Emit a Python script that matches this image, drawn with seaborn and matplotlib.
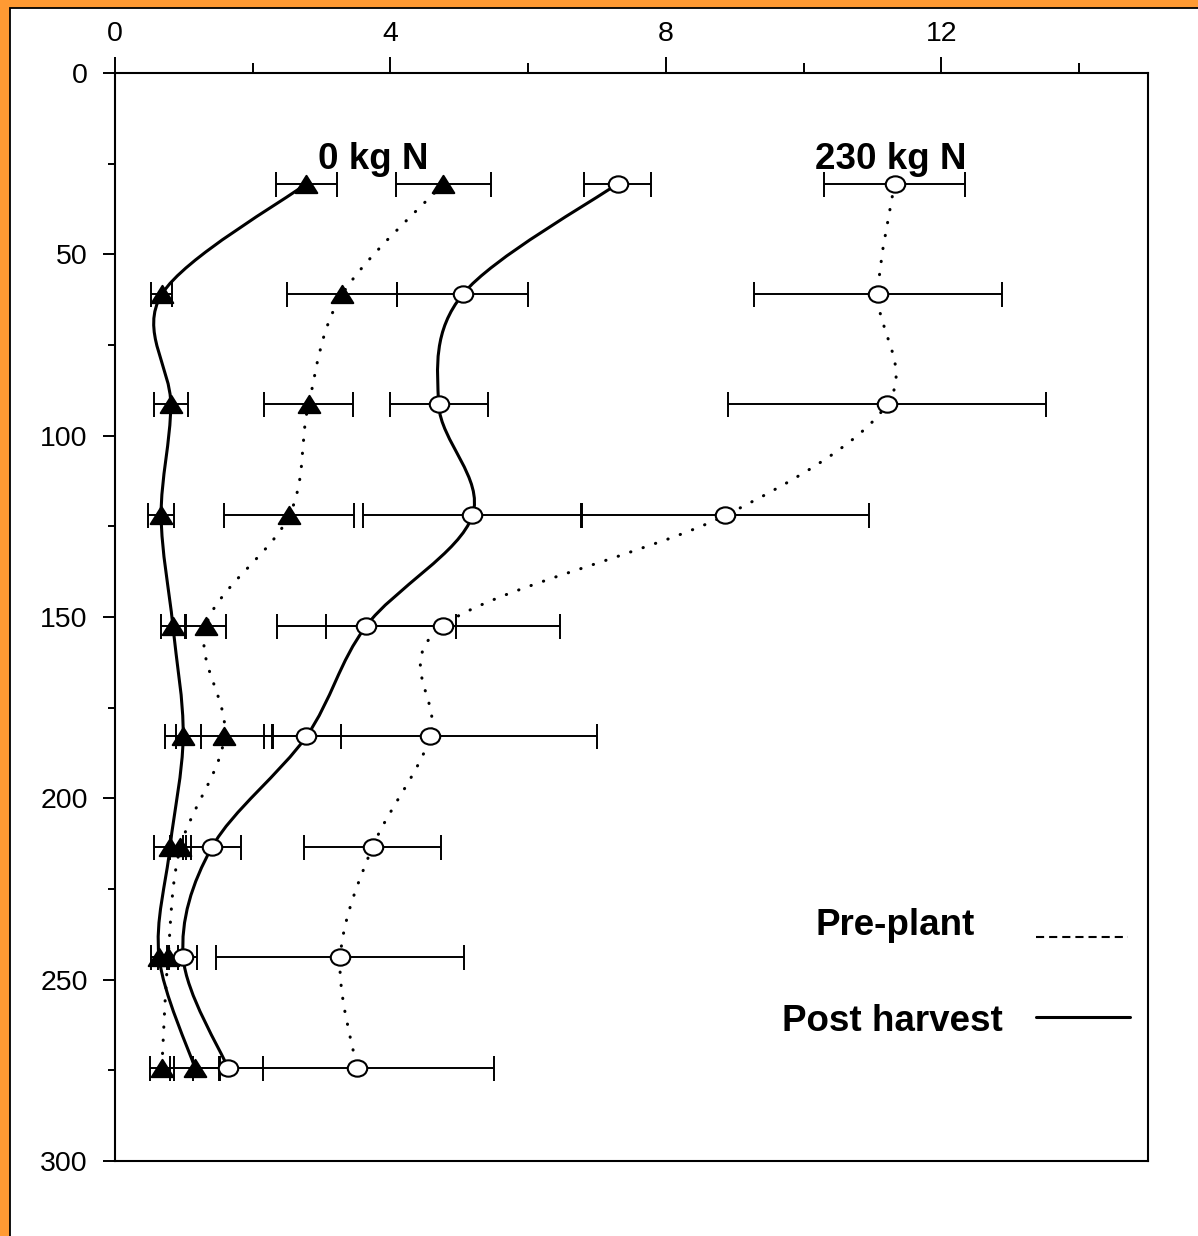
import numpy as np
import pandas as pd
import seaborn as sns
import matplotlib
matplotlib.use("Agg")
import matplotlib.pyplot as plt
from matplotlib.path import Path
from matplotlib.patches import PathPatch, Rectangle
from matplotlib.transforms import Affine2D

# depth of each sampling layer (cm)
depth = [30.5, 61.0, 91.4, 122.0, 152.4, 182.9, 213.4, 243.8, 274.3]

# 0 kg N
n0_pre = [4.77, 3.30, 2.81, 2.53, 1.32, 1.59, 0.95, 0.77, 0.68]
n0_pre_err = [0.69, 0.80, 0.65, 0.94, 0.29, 0.71, 0.15, 0.15, 0.17]
n0_post = [2.78, 0.68, 0.81, 0.67, 0.84, 0.99, 0.80, 0.64, 1.16]
n0_post_err = [0.44, 0.15, 0.25, 0.19, 0.17, 0.26, 0.23, 0.12, 0.36]

# 230 kg N
n230_pre = [11.32, 11.08, 11.21, 8.86, 4.76, 4.58, 3.74, 3.27, 3.51]
n230_pre_err = [1.02, 1.80, 2.31, 2.09, 1.70, 2.42, 1.00, 1.80, 2.00]
n230_post = [7.30, 5.05, 4.70, 5.19, 3.65, 2.78, 1.41, 0.99, 1.64]
n230_post_err = [0.49, 0.95, 0.71, 1.59, 1.30, 0.50, 0.42, 0.20, 0.51]

x_major = [0, 4, 8, 12]
x_minor = [2, 6, 10, 14]
y_major = [0, 50, 100, 150, 200, 250, 300]
y_minor = [25, 75, 125, 175, 225, 275]

sns.set_style("ticks")
plt.rcParams["font.family"] = ["Liberation Sans", "DejaVu Sans"]
plt.rcParams["text.color"] = "black"
plt.rcParams["axes.edgecolor"] = "black"
plt.rcParams["xtick.color"] = "black"
plt.rcParams["ytick.color"] = "black"

fig = plt.figure(figsize=(11.98, 12.36), dpi=100)
fig.patch.set_facecolor("#FF9A33")
fig.patches.append(Rectangle((9.5 / 1198, -0.1), 1.2, 1.1 - 8.5 / 1236,
                             transform=fig.transFigure, facecolor="white",
                             edgecolor="black", lw=1.3, zorder=-5))
ax = fig.add_axes([115 / 1198, 1 - 1161 / 1236, 1033 / 1198, 1088 / 1236])
ax.set_facecolor("white")


def smooth_path(xs, ys):
    # catmull-rom curve through the points, as cubic bezier segments
    pts = np.column_stack([xs, ys])
    ext = np.vstack([pts[0], pts, pts[-1]])
    verts = [pts[0]]
    codes = [Path.MOVETO]
    for i in range(len(pts) - 1):
        p0, p1, p2, p3 = ext[i], ext[i + 1], ext[i + 2], ext[i + 3]
        verts += [p1 + (p2 - p0) / 6, p2 - (p3 - p1) / 6, p2]
        codes += [Path.CURVE4] * 3
    return Path(verts, codes)


tri = Path([(0, 0.8), (-1, -0.8), (1, -0.8), (0, 0.8)],
           [Path.MOVETO, Path.LINETO, Path.LINETO, Path.CLOSEPOLY])
ell = Path.unit_circle().transformed(Affine2D().scale(1.0, 0.84))

series = [
    (n0_pre, n0_pre_err, "pre", tri, "black", 15.5),
    (n0_post, n0_post_err, "post", tri, "black", 15.5),
    (n230_pre, n230_pre_err, "pre", ell, "white", 14.0),
    (n230_post, n230_post_err, "post", ell, "white", 14.0),
]

for vals, err, kind, mk, fc, ms in series:
    df = pd.DataFrame({"no3": vals, "depth": depth, "err": err})
    ax.errorbar(df["no3"], df["depth"], xerr=df["err"], fmt="none",
                ecolor="black", elinewidth=1.4, capsize=9, capthick=1.4,
                zorder=2)
    if kind == "post":
        patch = PathPatch(smooth_path(df["no3"], df["depth"]), fill=False,
                          lw=2.2, edgecolor="black", zorder=3)
    else:
        patch = PathPatch(smooth_path(df["no3"], df["depth"]), fill=False,
                          lw=2.2, edgecolor="black", zorder=3,
                          linestyle=(0, (0.1, 4.2)), capstyle="round")
    ax.add_patch(patch)
    sns.scatterplot(data=df, x="no3", y="depth", marker=mk, s=ms ** 2,
                    color=fc, edgecolor="black", linewidth=1.5, zorder=4,
                    ax=ax, legend=False)

ax.set_xlim(0, 15)
ax.set_ylim(300, 0)
ax.xaxis.tick_top()
ax.set_xticks(x_major)
ax.set_xticks(x_minor, minor=True)
ax.set_yticks(y_major)
ax.set_yticks(y_minor, minor=True)
ax.tick_params(axis="x", which="major", length=11.5, width=1.4, pad=7, labelsize=20.5)
ax.tick_params(axis="x", which="minor", length=7, width=1.4)
ax.tick_params(axis="y", which="major", length=8.6, width=1.4, pad=11, labelsize=20.5)
ax.tick_params(axis="y", which="minor", length=5, width=1.4)
ax.set_xlabel("")
ax.set_ylabel("")
for sp in ax.spines.values():
    sp.set_visible(True)
    sp.set_linewidth(1.5)
    sp.set_color("black")

ax.text(3.75, 26.5, "0 kg N", ha="center", va="baseline", fontsize=26.5,
        fontweight="bold")
ax.text(11.27, 26.5, "230 kg N", ha="center", va="baseline", fontsize=26.5,
        fontweight="bold")

# legend drawn as labels with line samples
ax.text(0.755, 0.2077, "Pre-plant", transform=ax.transAxes, ha="center",
        va="baseline", fontsize=26.5, fontweight="bold")
ax.text(0.753, 0.1195, "Post harvest", transform=ax.transAxes,
        ha="center", va="baseline", fontsize=26.5, fontweight="bold")
ax.plot([0.8916, 0.9806], [0.2059, 0.2059], transform=ax.transAxes,
        color="black", lw=1.5, linestyle=(0, (3.9, 2.4)))
ax.plot([0.8916, 0.9826], [0.1324, 0.1324], transform=ax.transAxes,
        color="black", lw=2.2)

fig.savefig("out.png", dpi=100, facecolor=fig.get_facecolor())
